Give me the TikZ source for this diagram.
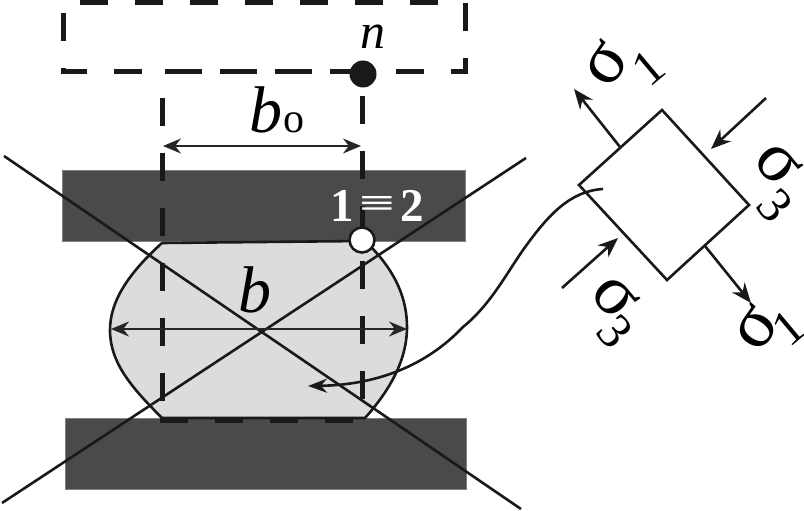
\documentclass[tikz,border=0pt]{standalone}
\usepackage{fontspec}
\setmainfont{Liberation Serif}
\usetikzlibrary{arrows.meta}
\definecolor{platecol}{HTML}{4A4A4A}
\definecolor{bulgecol}{HTML}{DCDCDC}
\tikzset{plate/.style={fill=platecol, draw=gray, line width=0.5pt, inner sep=0pt},
  dashline/.style={line width=5pt, color=black!90, dash pattern=on 28pt off 27pt},
  longdash/.style={line width=5pt, color=black!90, dash pattern=on 37pt off 18pt},
  thinline/.style={line width=2.6pt, color=black!90},
  dimline/.style={line width=1.5pt, color=black!85, {Stealth[length=18pt,width=15pt]}-{Stealth[length=18pt,width=15pt]}},
  stressline/.style={line width=2.6pt, color=black!90, -{Stealth[length=20pt,width=16pt]}},
  sigmalabel/.style={font=\fontsize{72}{72}\selectfont, inner sep=0pt, rotate=#1},
  indexlabel/.style={font=\fontsize{50}{50}\selectfont, inner sep=0pt, rotate=#1}}
\begin{document}
\begin{tikzpicture}[x=1pt, y=-1pt]
  \useasboundingbox (0,0) rectangle (804,511);
  % plates and deformed specimen
  \node[plate, minimum width=403pt, minimum height=71pt] (topplate) at (263.5,205.5) {};
  \node[plate, minimum width=401pt, minimum height=71pt] (botplate) at (265.5,453.5) {};
  \draw[thinline, fill=bulgecol] (162,243) -- (362,241) -- (372,248) .. controls (395,272) and (407,298) .. (407,327)
    .. controls (407,360) and (390,390) .. (365,418) -- (162,418)
    .. controls (130,386) and (110,362) .. (110,330) .. controls (110,300) and (130,272) .. (162,243);
  % dashed lines
  \coordinate (boxa) at (63,72);
  \coordinate (boxb) at (465,72);
  \coordinate (boxc) at (465,3);
  \coordinate (boxd) at (63,3);
  \draw[dashline] (396,72) -- (boxb) -- (boxc) -- (boxd) -- (boxa) -- (146,72);
  \draw[longdash] (165,72) -- (362,72);
  \coordinate (leftup) at (162,98);
  \coordinate (rightup) at (362,96);
  \coordinate (leftlow) at (162,420);
  \coordinate (rightlow) at (362,420);
  \draw[dashline] (leftup) -- (162,403);
  \draw[dashline] (rightup) -- (362,401);
  \draw[dashline] (160,420) -- (357,420);
  % crossed out
  \coordinate (crossa) at (4,156);
  \coordinate (crossb) at (521,509);
  \coordinate (crossc) at (526,158);
  \coordinate (crossd) at (2,503);
  \draw[thinline] (crossa) -- (crossb);
  \draw[thinline] (crossc) -- (crossd);
  % points
  \node[circle, fill=black!90, inner sep=0pt, minimum size=27pt] (pointn) at (363,74) {};
  \node[circle, fill=white, draw=black!90, line width=2.6pt, inner sep=0pt, minimum size=25pt] (pointone) at (362,240) {};
  % sizes
  \coordinate (bol) at (163,146);
  \coordinate (bor) at (361,146);
  \coordinate (bl) at (111,329);
  \coordinate (br) at (407,329);
  \draw[dimline] (bol) -- (bor);
  \draw[dimline] (bl) -- (br);
  \node[inner sep=0pt, font=\fontsize{66}{66}\selectfont] (blabel) at (255,290) {\textit{b}};
  \node[inner sep=0pt, font=\fontsize{66}{66}\selectfont] (bolabel) at (277,110) {\textit{b}\kern1pt{\fontsize{42}{42}\selectfont o}};
  \node[inner sep=0pt, font=\fontsize{50}{50}\selectfont] (nlabel) at (373,37) {\textit{n}};
  \node[inner sep=0pt, text=white, font=\fontsize{47}{47}\selectfont\bfseries] (pointlabel) at (377,206) {1\kern5pt\raisebox{7pt}{\resizebox{36pt}{18pt}{≡}}\kern5pt2};
  % stress element
  \coordinate (sqa) at (662,110);
  \coordinate (sqb) at (749,205);
  \coordinate (sqc) at (667,280);
  \coordinate (sqd) at (579,185);
  \draw[thinline, fill=white] (sqa) -- (sqb) -- (sqc) -- (sqd) -- cycle;
  \coordinate (tensa) at (620,147);
  \coordinate (tensb) at (574,89);
  \coordinate (tensc) at (705,246);
  \coordinate (tensd) at (751,303);
  \coordinate (compa) at (766,98);
  \coordinate (compb) at (711,149);
  \coordinate (compc) at (562,288);
  \coordinate (compd) at (618,238);
  \draw[stressline] (tensa) -- (tensb);
  \draw[stressline] (tensc) -- (tensd);
  \draw[stressline] (compa) -- (compb);
  \draw[stressline] (compc) -- (compd);
  \node[sigmalabel=55] (sigaa) at (606,64) {σ};
  \node[indexlabel=40] (sigab) at (648,68) {1};
  \node[sigmalabel=55] (sigba) at (756,328) {σ};
  \node[indexlabel=40] (sigbb) at (788,328) {1};
  \node[sigmalabel=-50] (sigca) at (778,164) {σ};
  \node[indexlabel=-50] (sigcb) at (775,206) {3};
  \node[sigmalabel=-50] (sigda) at (615,297) {σ};
  \node[indexlabel=-50] (sigdb) at (615,332) {3};
  % link to the element
  \coordinate (linkstart) at (603,189);
  \coordinate (linkend) at (308,386);
  \draw[line width=2.6pt, color=black!90, -{Stealth[length=19pt,width=14pt]}] (linkstart) .. controls (570,191) and (548,215) .. (523,250)
    .. controls (505,276) and (490,305) .. (463,327) .. controls (425,367) and (375,385) .. (linkend);
\end{tikzpicture}
\end{document}
